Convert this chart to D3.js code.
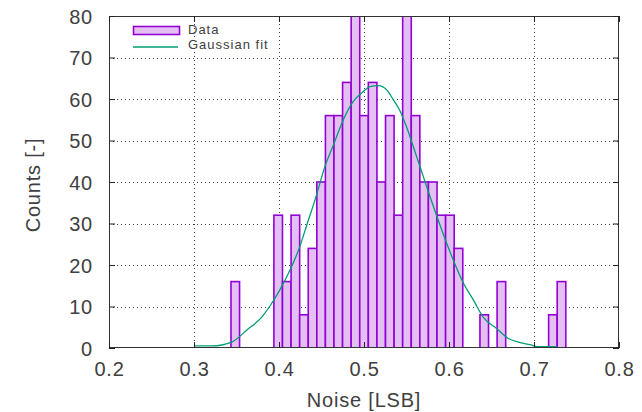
<!DOCTYPE html>
<html>
<head>
<meta charset="utf-8">
<script src="https://cdn.jsdelivr.net/npm/d3@7"></script>
<style>
  html, body { margin: 0; padding: 0; background: #fff; }
  svg { display: block; font-family: "Liberation Sans", Arial, sans-serif; }
</style>
</head>
<body>
<svg id="chart" width="642" height="412"></svg>
<script>
// ---- data ----
const binWidth = 0.0101;
const binLeft = [0.3435,
  0.394, 0.4041, 0.4142, 0.4243, 0.4344, 0.4445, 0.4546, 0.4647, 0.4748, 0.4849, 0.495,
  0.5051, 0.5152, 0.5253, 0.5354, 0.5455, 0.5556, 0.5657, 0.5758, 0.5859, 0.596, 0.6061,
  0.6364, 0.6566, 0.7172, 0.7273];
const counts = [16,
  32, 16, 32, 8, 24, 40, 56, 56, 64, 80, 56,
  64, 40, 56, 32, 80, 56, 40, 40, 32, 32, 24,
  8, 16, 8, 16];

const fitX = [0.300, 0.321, 0.345, 0.362, 0.380, 0.389, 0.401, 0.413, 0.423, 0.4345, 0.4424,
  0.454, 0.464, 0.4757, 0.487, 0.497, 0.507, 0.517, 0.5267, 0.5345, 0.542, 0.550, 0.560,
  0.5698, 0.5776, 0.593, 0.605, 0.617, 0.6286, 0.640, 0.656, 0.670, 0.684, 0.699, 0.705, 0.727];
const fitY = [0.5, 0.5, 1.5, 4.3, 7.5, 10, 14, 18.8, 23.6, 30.8, 35.7,
  43.7, 48.9, 55, 59.3, 61.4, 63, 63.2, 62.2, 59.8, 57.3, 53.3, 47.3,
  41.3, 36.5, 27.6, 21.2, 15.6, 11.6, 7.5, 4.7, 2.3, 1.3, 0.6, 0.3, 0.3];

const xTicks = [0.2, 0.3, 0.4, 0.5, 0.6, 0.7, 0.8];
const yTicks = [0, 10, 20, 30, 40, 50, 60, 70, 80];
const xLabel = "Noise [LSB]";
const yLabel = "Counts [-]";
const legendLabels = ["Data", "Gaussian fit"];

// ---- layout ----
const L = 109, R = 619, T = 16, B = 348;
const x = d3.scaleLinear().domain([0.2, 0.8]).range([L, R]);
const y = d3.scaleLinear().domain([0, 80]).range([B, T]);

const barStroke = "#9400d3";
const barFill = "#e4bff4";
const lineColor = "#009e73";
const textColor = "#404040";

const svg = d3.select("#chart");

svg.append("defs").append("clipPath").attr("id", "plotclip")
  .append("rect").attr("x", L).attr("y", T).attr("width", R - L).attr("height", B - T);

// grid
const grid = svg.append("g").attr("stroke", "#444").attr("stroke-width", 1)
  .attr("stroke-dasharray", "1,3");
grid.selectAll("line.gx").data(xTicks.filter(t => t > 0.2 && t < 0.8)).join("line")
  .attr("x1", d => Math.round(x(d)) + 0.5).attr("x2", d => Math.round(x(d)) + 0.5)
  .attr("y1", T).attr("y2", B);
grid.selectAll("line.gy").data(yTicks.filter(t => t > 0 && t < 80)).join("line")
  .attr("x1", L).attr("x2", R)
  .attr("y1", d => Math.round(y(d)) + 0.5).attr("y2", d => Math.round(y(d)) + 0.5);

// bars
const bars = binLeft.map((b, i) => ({ x0: b, x1: b + binWidth, c: counts[i] }));
svg.append("g").attr("clip-path", "url(#plotclip)")
  .selectAll("rect").data(bars).join("rect")
  .attr("x", d => x(d.x0)).attr("width", d => x(d.x1) - x(d.x0))
  .attr("y", d => y(d.c)).attr("height", d => y(0) - y(d.c))
  .attr("fill", barFill).attr("stroke", barStroke).attr("stroke-width", 1.6);

// fit curve
const fit = fitX.map((v, i) => [v, fitY[i]]);
svg.append("path").datum(fit)
  .attr("clip-path", "url(#plotclip)")
  .attr("d", d3.line().x(d => x(d[0])).y(d => y(d[1])).curve(d3.curveMonotoneX))
  .attr("fill", "none").attr("stroke", lineColor).attr("stroke-width", 1.3);

// border
svg.append("rect").attr("x", L + 0.5).attr("y", T + 0.5)
  .attr("width", R - L - 1).attr("height", B - T - 1)
  .attr("fill", "none").attr("stroke", "#333").attr("stroke-width", 1);

// axes with inward ticks (and mirrored ticks)
const axB = svg.append("g").attr("transform", `translate(0,${B})`)
  .call(d3.axisBottom(x).tickValues(xTicks).tickFormat(d3.format(".1f")).tickSizeInner(-6).tickSizeOuter(0).tickPadding(14));
const axT = svg.append("g").attr("transform", `translate(0,${T})`)
  .call(d3.axisTop(x).tickValues(xTicks).tickFormat("").tickSizeInner(-6).tickSizeOuter(0));
const axLft = svg.append("g").attr("transform", `translate(${L},0)`)
  .call(d3.axisLeft(y).tickValues(yTicks).tickSizeInner(-6).tickSizeOuter(0).tickPadding(16));
const axRgt = svg.append("g").attr("transform", `translate(${R},0)`)
  .call(d3.axisRight(y).tickValues(yTicks).tickFormat("").tickSizeInner(-6).tickSizeOuter(0));
[axB, axT, axLft, axRgt].forEach(a => {
  a.select(".domain").remove();
  a.selectAll(".tick line").attr("stroke", "#222");
  a.selectAll("text").attr("font-size", 20).attr("fill", textColor)
    .attr("font-family", "Liberation Sans, Arial, sans-serif").attr("letter-spacing", 0.8);
});
axB.selectAll("text").attr("dy", "0.71em");
axLft.selectAll("text").attr("dy", "0.36em");

// axis titles
svg.append("text").attr("x", (L + R) / 2).attr("y", 407)
  .attr("text-anchor", "middle").attr("font-size", 20).attr("fill", textColor)
  .attr("letter-spacing", 0.8).text(xLabel);
svg.append("text").attr("transform", `translate(40,${(T + B) / 2 + 3}) rotate(-90)`)
  .attr("text-anchor", "middle").attr("font-size", 20).attr("fill", textColor)
  .attr("letter-spacing", 0.8).text(yLabel);

// legend
const lg = svg.append("g");
lg.append("rect").attr("x", 133.5).attr("y", 26.5).attr("width", 46).attr("height", 8)
  .attr("fill", barFill).attr("stroke", barStroke).attr("stroke-width", 1.6);
lg.append("line").attr("x1", 133).attr("x2", 178).attr("y1", 47).attr("y2", 47)
  .attr("stroke", lineColor).attr("stroke-width", 1.3);
lg.selectAll("text").data(legendLabels).join("text")
  .attr("x", 188).attr("y", (d, i) => 34 + i * 15)
  .attr("font-size", 13).attr("fill", textColor).attr("letter-spacing", 1)
  .text(d => d);
</script>
</body>
</html>
